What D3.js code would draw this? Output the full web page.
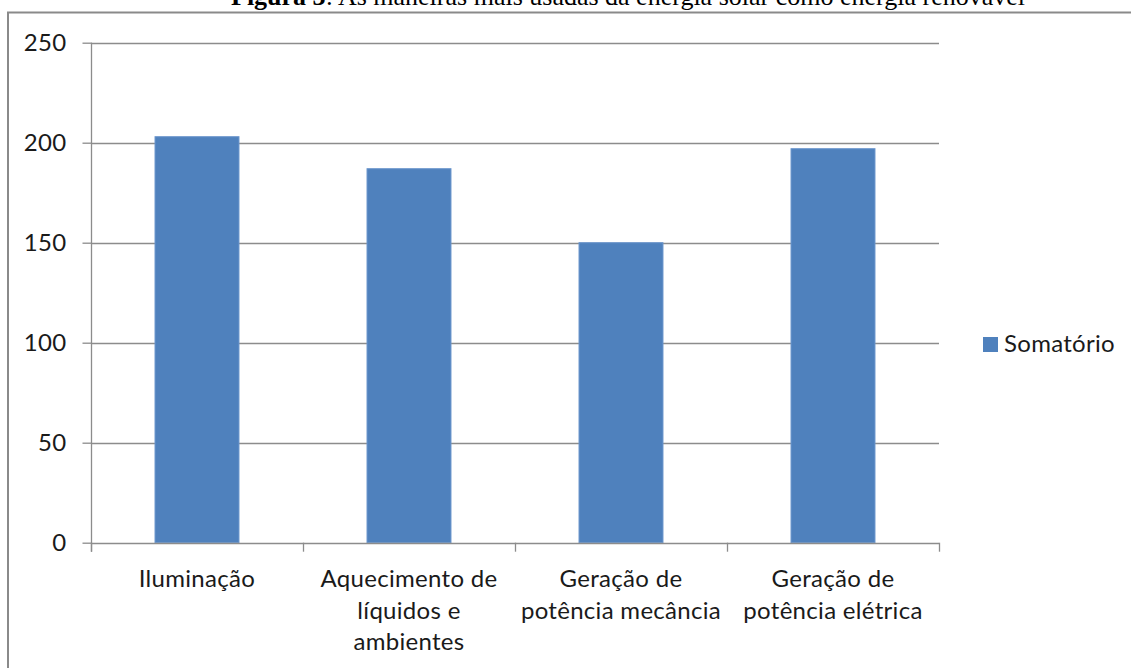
<!DOCTYPE html>
<html>
<head>
<meta charset="utf-8">
<script src="https://cdn.jsdelivr.net/npm/d3@7"></script>
<style>
  html, body { margin: 0; padding: 0; background: #fff; }
  svg { display: block; }
</style>
</head>
<body>
<svg id="chart" width="1131" height="668"></svg>
<script>
// Categories (each label split into its wrapped lines) and series values
const categories = [
  "Iluminação",
  "Aquecimento de líquidos e ambientes",
  "Geração de potência mecância",
  "Geração de potência elétrica"
];
const categoryLines = [
  ["Iluminação"],
  ["Aquecimento de", "líquidos e", "ambientes"],
  ["Geração de", "potência mecância"],
  ["Geração de", "potência elétrica"]
];
const somatorio = [203, 187, 150, 197];
const seriesName = "Somatório";
const yTicks = [0, 50, 100, 150, 200, 250];
const titleBold = "Figura 3";
const titleRest = ": As maneiras mais usadas da energia solar como energia renovável";

const W = 1131, H = 668;
const plot = { left: 91, right: 939, top: 42.7, bottom: 542.7 };
const axisColor = "#8c8c8c";
const barColor = "#4f81bd";
const textColor = "#1a1a1a";
const font = "Lato, 'Open Sans', sans-serif";
const fontSize = 24;
const spacing = "0.3px";

const svg = d3.select("#chart");
svg.append("rect").attr("width", W).attr("height", H).attr("fill", "#fff");

// Caption above the chart frame
const title = svg.append("text")
  .attr("x", 628).attr("y", 5)
  .attr("text-anchor", "middle")
  .attr("font-family", "'Liberation Serif', 'Times New Roman', serif")
  .attr("font-size", 26)
  .attr("fill", "#000");
title.append("tspan").attr("font-weight", "bold").text(titleBold);
title.append("tspan").text(titleRest);

// Chart frame (left and top edges visible)
svg.append("path")
  .attr("d", `M8,${H} V12.5 H${W}`)
  .attr("fill", "none")
  .attr("stroke", "#8a8a8a")
  .attr("stroke-width", 2);

const y = d3.scaleLinear().domain([0, 250]).range([plot.bottom, plot.top]);
const x = d3.scaleBand()
  .domain(categories)
  .range([plot.left, plot.right])
  .paddingInner(0.604)
  .paddingOuter(0.302);

// Horizontal gridlines
svg.append("g")
  .selectAll("line")
  .data(yTicks.filter(d => d > 0))
  .join("line")
  .attr("x1", plot.left).attr("x2", plot.right)
  .attr("y1", d => Math.round(y(d)) + 0.5).attr("y2", d => Math.round(y(d)) + 0.5)
  .attr("stroke", axisColor)
  .attr("stroke-width", 1.3);

// Bars
svg.append("g")
  .selectAll("rect")
  .data(somatorio)
  .join("rect")
  .attr("x", (d, i) => x(categories[i]))
  .attr("y", d => y(d))
  .attr("width", x.bandwidth())
  .attr("height", d => y(0) - y(d))
  .attr("fill", barColor)
  .attr("stroke", "#6a95cc")
  .attr("stroke-width", 1);

// Y axis
const yAxis = svg.append("g")
  .attr("transform", `translate(${plot.left + 0.5},0)`)
  .call(d3.axisLeft(y).tickValues(yTicks).tickSize(9).tickPadding(16).tickFormat(d3.format("d")));
yAxis.select(".domain").attr("stroke", axisColor).attr("stroke-width", 1.3)
  .attr("d", `M0,${plot.top} V${plot.bottom + 9}`);
yAxis.selectAll(".tick line").attr("stroke", axisColor).attr("stroke-width", 1.3);
yAxis.selectAll(".tick text")
  .attr("font-size", fontSize)
  .attr("font-family", font)
  .attr("letter-spacing", spacing)
  .attr("fill", textColor);

// X axis: baseline with separator ticks between categories
const xAxis = svg.append("g");
xAxis.append("line")
  .attr("x1", plot.left).attr("x2", plot.right)
  .attr("y1", Math.round(y(0)) + 0.5).attr("y2", Math.round(y(0)) + 0.5)
  .attr("stroke", axisColor).attr("stroke-width", 1.3);
const step = x.step();
const sepPositions = d3.range(categories.length + 1).map(i => plot.left + i * step);
xAxis.selectAll("line.sep")
  .data(sepPositions)
  .join("line")
  .attr("class", "sep")
  .attr("x1", d => d + 0.5).attr("x2", d => d + 0.5)
  .attr("y1", y(0)).attr("y2", y(0) + 9)
  .attr("stroke", axisColor).attr("stroke-width", 1.3);

// Category labels
const labels = xAxis.selectAll("text.cat")
  .data(categoryLines)
  .join("text")
  .attr("class", "cat")
  .attr("text-anchor", "middle")
  .attr("font-family", font)
  .attr("font-size", fontSize)
  .attr("letter-spacing", spacing)
  .attr("fill", textColor);
labels.each(function(lines, i) {
  const cx = x(categories[i]) + x.bandwidth() / 2;
  d3.select(this).selectAll("tspan")
    .data(lines)
    .join("tspan")
    .attr("x", cx)
    .attr("y", (d, j) => 587 + j * 31.5)
    .text(d => d);
});

// Legend
const legend = svg.append("g").attr("transform", "translate(983,337)");
legend.append("rect").attr("width", 15).attr("height", 15).attr("fill", barColor);
legend.append("text")
  .attr("x", 21).attr("y", 15)
  .attr("font-family", font)
  .attr("font-size", fontSize)
  .attr("letter-spacing", spacing)
  .attr("fill", textColor)
  .text(seriesName);
</script>
</body>
</html>
